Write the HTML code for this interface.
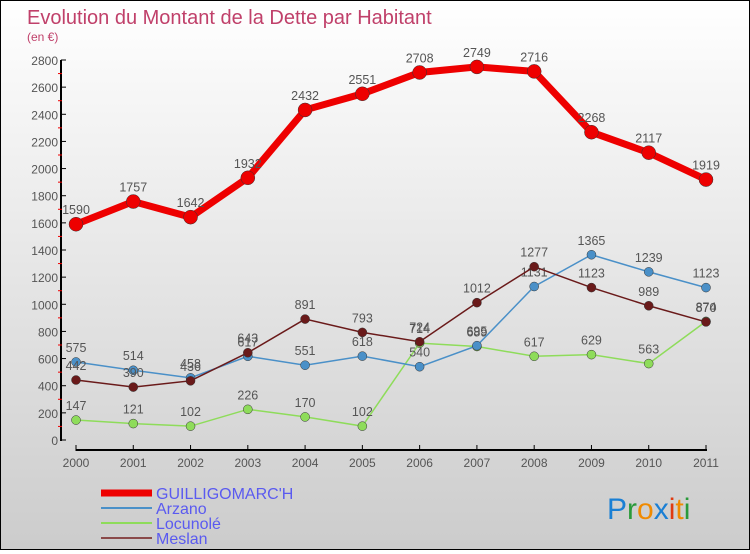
<!DOCTYPE html>
<html><head><meta charset="utf-8"><style>
body{margin:0}
#c{width:748px;height:548px;border:1px solid #000;background:linear-gradient(#fff,#ccc);position:relative;font-family:"Liberation Sans",sans-serif}
svg text{font-family:"Liberation Sans",sans-serif}
</style></head><body>
<div id="c">
<svg id="s" width="748" height="548">
<text x="26" y="23" font-size="20" fill="#c0406a">Evolution du Montant de la Dette par Habitant</text>
<text x="26" y="40" font-size="12" fill="#c0406a">(en €)</text>
<g id="g"></g>
<text x="606" y="518" font-size="30" font-family="Liberation Sans"><tspan fill="#1a7fd4">P</tspan><tspan fill="#2a9a3a">r</tspan><tspan fill="#f08a00">o</tspan><tspan fill="#1a7fd4">x</tspan><tspan fill="#e03a10">i</tspan><tspan fill="#f08a00">t</tspan><tspan fill="#2a9a3a">i</tspan></text>
</svg></div>
<script>
const years=[2000,2001,2002,2003,2004,2005,2006,2007,2008,2009,2010,2011];
const guilli=[1590,1757,1642,1932,2432,2551,2708,2749,2716,2268,2117,1919];
const arzano=[575,514,458,617,551,618,540,695,1131,1365,1239,1123];
const locunole=[147,121,102,226,170,102,714,689,617,629,563,874];
const meslan=[442,390,436,643,891,793,724,1012,1277,1123,989,870];
const yTicks=[0,200,400,600,800,1000,1200,1400,1600,1800,2000,2200,2400,2600,2800];
const NS='http://www.w3.org/2000/svg';
const g=document.getElementById('g');
const X=i=>75+i*(705-75)/(years.length-1);
const Y=v=>439-v*(439-59)/2800;
function el(t,a,p){const e=document.createElementNS(NS,t);for(const k in a)e.setAttribute(k,a[k]);(p||g).appendChild(e);return e;}
let e;
e=el('line',{x1:60,y1:59,x2:60,y2:440,stroke:'#000','stroke-width':2});


e=el('line',{x1:75,y1:449,x2:706,y2:449,stroke:'#000','stroke-width':2});


yTicks.forEach((v,i)=>{
 el('line',{x1:60,y1:Y(v),x2:65,y2:Y(v),stroke:'#000'});
 if(i<yTicks.length-1)el('line',{x1:57,y1:Y(v+100),x2:61,y2:Y(v+100),stroke:'#e00'});
 e=el('text',{x:57,y:Y(v)+5,'font-size':12,'text-anchor':'end',fill:'#555'});
 e.textContent=v;
 
 
});
years.forEach((y,i)=>{
 el('line',{x1:X(i),y1:444,x2:X(i),y2:450,stroke:'#000'});
 e=el('text',{x:X(i),y:466,'font-size':12,'text-anchor':'middle',fill:'#555'});
 e.textContent=y;
 
 
});
const series=[[locunole,'#8edc5a',1.5,4.5,'locunole'],[arzano,'#4a90c8',1.5,4.5,'arzano'],[meslan,'#6a1a1a',1.5,4.5,'meslan'],[guilli,'#e00',7,7,'guilligomarch']];
series.forEach(([d,c,w,r,n])=>{
 e=el('polyline',{points:d.map((v,i)=>X(i)+','+Y(v)).join(' '),fill:'none',stroke:c,'stroke-width':w});
 
 
 d.forEach((v,i)=>{
  e=el('circle',{cx:X(i),cy:Y(v),r:r,fill:c,stroke:'#333','stroke-width':0.5});
  
  
  e=el('text',{x:X(i),y:Y(v)-10,'font-size':12.5,'text-anchor':'middle',fill:'#555'});
  e.textContent=v;
  
  
 });
});
const leg=[['GUILLIGOMARC\'H','#e00',7],['Arzano','#4a90c8',2],['Locunolé','#8edc5a',2],['Meslan','#8a4a4a',2]];
leg.forEach(([t,c,w],i)=>{
 const y=492+i*15;
 e=el('line',{x1:100,y1:y,x2:151,y2:y,stroke:c,'stroke-width':w});
 
 
 e=el('text',{x:155,y:y+6,'font-size':16,fill:'#5a5af0'});
 e.textContent=t;
 
 
});
</script>
</body></html>
